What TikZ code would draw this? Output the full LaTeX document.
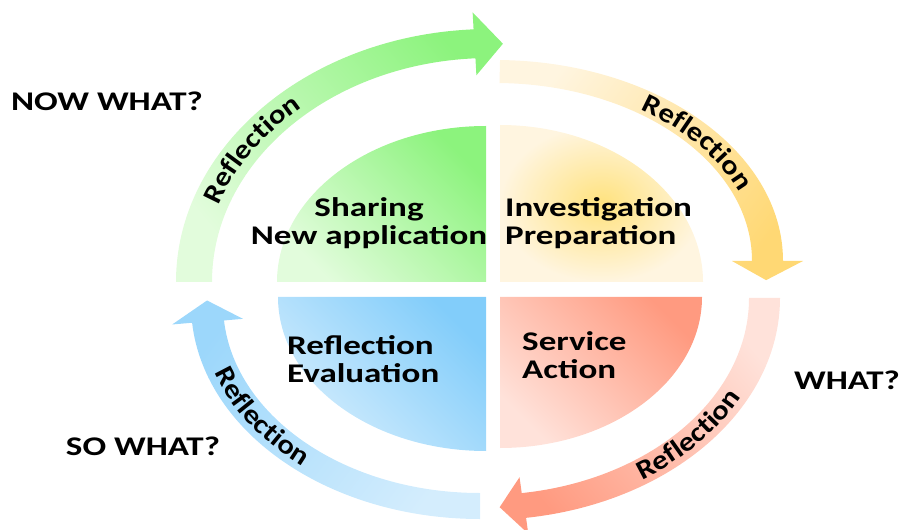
\documentclass[tikz,border=0pt]{standalone}
\usepackage{fontspec}
\newfontfamily\labelfont{Carlito}[FakeStretch=1.3]
\newfontfamily\arcfont{Carlito}[FakeStretch=1.15]
\usetikzlibrary{decorations.text}
\definecolor{share-dark}{HTML}{8CF37D}
\definecolor{share-light}{HTML}{E2FCDC}
\definecolor{prep-dark}{HTML}{FFD874}
\definecolor{prep-mid}{HTML}{FFE27E}
\definecolor{prep-light}{HTML}{FFF5E0}
\definecolor{act-dark}{HTML}{FF9A80}
\definecolor{act-light}{HTML}{FFE2DA}
\definecolor{eval-dark}{HTML}{82CDFA}
\definecolor{eval-arrow}{HTML}{9CD7FB}
\definecolor{eval-light}{HTML}{D4EDFD}

\newcommand{\arcstyle}{\arcfont\bfseries\fontsize{23}{24}\selectfont}

\begin{document}
\begin{tikzpicture}[x=0.03cm, y=0.03cm,
    label text/.style={font=\labelfont\bfseries\fontsize{23}{23.5}\selectfont, inner sep=0pt},
    reflection/.style={decorate, decoration={text along path, text align=center,
      text={|\arcstyle|Reflection}}}]
  \useasboundingbox (0,0) rectangle (906,529);
  \clip (0,0) rectangle (906,529);

  % the four quarters
  \shade[top color=share-dark, bottom color=share-light, shading angle=-45]
    (486,247) -- (277,247) arc[start angle=180, end angle=90, x radius=209, y radius=156] -- cycle;
  \shade[inner color=prep-mid, outer color=prep-light]
    (500,247) -- (500,404) arc[start angle=90, end angle=0, x radius=203, y radius=157] -- cycle;
  \shade[top color=eval-dark, bottom color=eval-light, shading angle=-45]
    (486,232) -- (278,232) arc[start angle=180, end angle=270, x radius=208, y radius=154] -- cycle;
  \shade[top color=act-dark, bottom color=act-light, shading angle=-45]
    (500,232) -- (702,232) arc[start angle=0, end angle=-90, x radius=202, y radius=151] -- cycle;

  % green arrow (now what -> investigation)
  \begin{scope}[shift={(490,247)}]
    \shade[top color=share-dark, bottom color=share-light, shading angle=-50]
      (180:314 and 253) arc[start angle=180, end angle=93, x radius=314, y radius=253]
      -- (93:332 and 270) -- (87.5:296 and 238.5) -- (93:260 and 207)
      -- (93:278 and 224) arc[start angle=93, end angle=180, x radius=278, y radius=224] -- cycle;
    \path[reflection] (179:288 and 230) arc[start angle=179, end angle=115, x radius=288, y radius=230];
  \end{scope}

  % yellow arrow
  \begin{scope}[shift={(495,268)}]
    \shade[top color=prep-dark, bottom color=prep-light, shading angle=-127]
      (89:288 and 201) arc[start angle=89, end angle=0, x radius=288, y radius=201]
      -- (0:308 and 221) -- (-5.8:272.5 and 189.5) -- (0:237 and 158)
      -- (0:257 and 178) arc[start angle=0, end angle=89, x radius=257, y radius=178] -- cycle;
    \path[reflection] (71:264.5 and 181.5) arc[start angle=71, end angle=3, x radius=264.5, y radius=181.5];
  \end{scope}

  % red arrow
  \begin{scope}[shift={(485,231)}]
    \shade[top color=act-dark, bottom color=act-light, shading angle=130]
      (0:295 and 222) arc[start angle=0, end angle=-82, x radius=295, y radius=222]
      -- (-82:311 and 238) -- (-87:279.5 and 209.5) -- (-82:248 and 181)
      -- (-82:264 and 197) arc[start angle=-82, end angle=0, x radius=264, y radius=197] -- cycle;
    \path[reflection] (-74:287.5 and 217.5) arc[start angle=-74, end angle=-6, x radius=287.5, y radius=217.5];
  \end{scope}

  % blue arrow
  \begin{scope}[shift={(480,225)}]
    \shade[top color=eval-arrow, bottom color=eval-light, shading angle=53]
      (270:289 and 215) arc[start angle=270, end angle=185, x radius=289, y radius=215]
      -- (185:309 and 235) -- (179:273 and 202) -- (185:238 and 170)
      -- (185:257 and 189) arc[start angle=185, end angle=270, x radius=257, y radius=189] -- cycle;
    \path[reflection] (179:281 and 210) arc[start angle=179, end angle=247, x radius=281, y radius=210];
  \end{scope}

  % texts
  \node[label text, align=center] (sharing) at (369,306) {Sharing\\New application};
  \node[label text, align=left, anchor=west] (investigation) at (505,306) {Investigation\\Preparation};
  \node[label text, align=left, anchor=west] (evaluation) at (287,170) {Reflection\\Evaluation};
  \node[label text, align=left, anchor=west] (service) at (522,174) {Service\\Action};

  \node[label text] (nowwhat) at (107,427.5) {NOW WHAT?};
  \node[label text] (what) at (847,149) {WHAT?};
  \node[label text] (sowhat) at (143,82.5) {SO WHAT?};
\end{tikzpicture}
\end{document}
